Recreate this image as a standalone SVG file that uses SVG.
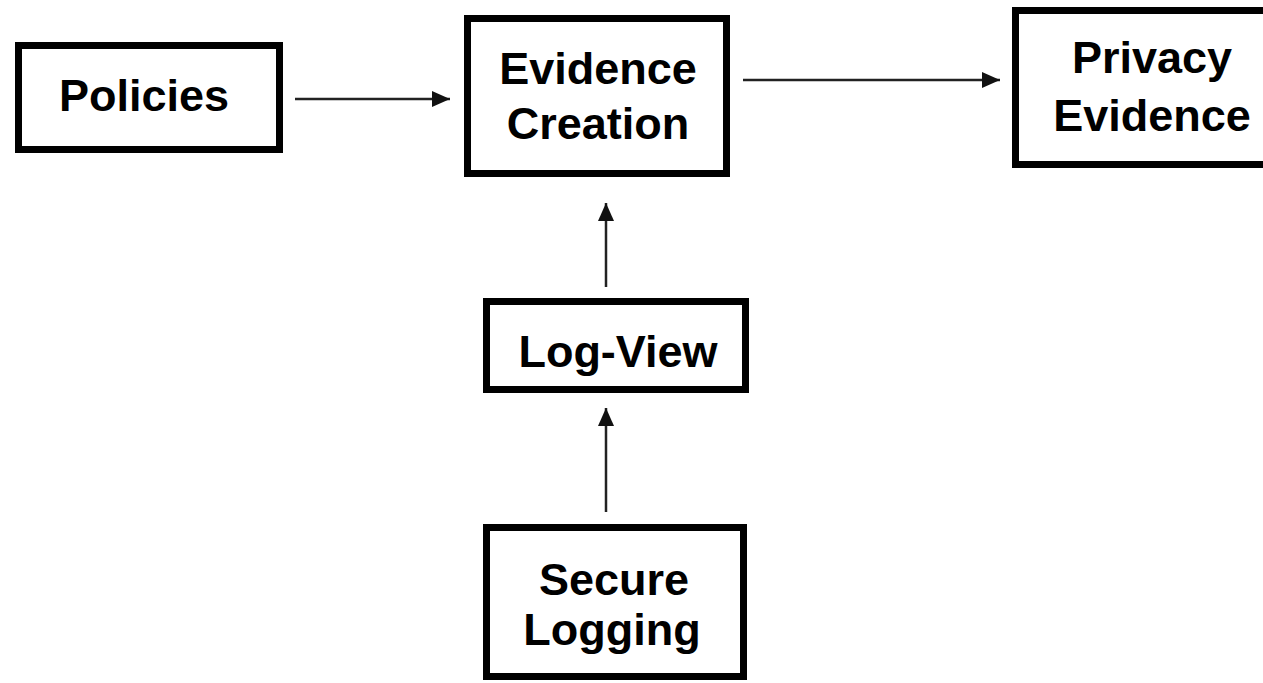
<svg xmlns="http://www.w3.org/2000/svg" width="1263" height="683" viewBox="0 0 1263 683">
<style>
.box{fill:#fff;stroke:#000;stroke-width:7}
.lbl{font-family:"Liberation Sans",Arial,sans-serif;font-weight:bold;font-size:45px;fill:#000;text-anchor:middle}
.edge{stroke:#222;stroke-width:2.5;fill:none}
</style>
<defs>
<marker id="arr" viewBox="0 0 18 16" refX="18" refY="8" markerWidth="18" markerHeight="16" markerUnits="userSpaceOnUse" orient="auto">
<path d="M0,0 L18,8 L0,16 z" fill="#111"/>
</marker>
</defs>
<rect width="1263" height="683" fill="#fff"/>
<g id="connectors">
<line class="edge" x1="295" y1="99" x2="450" y2="99" marker-end="url(#arr)"/>
<line class="edge" x1="743" y1="80" x2="1000" y2="80" marker-end="url(#arr)"/>
<line class="edge" x1="606" y1="287" x2="606" y2="203" marker-end="url(#arr)"/>
<line class="edge" x1="606" y1="512" x2="606" y2="408" marker-end="url(#arr)"/>
</g>
<g id="policies">
<rect class="box" x="18.5" y="45.5" width="261" height="104"/>
<text class="lbl" x="144" y="111">Policies</text>
</g>
<g id="evidence-creation">
<rect class="box" x="467.5" y="18.5" width="259" height="155"/>
<text class="lbl" x="598" y="84">Evidence</text>
<text class="lbl" x="598" y="139">Creation</text>
</g>
<g id="privacy-evidence">
<rect class="box" x="1015.5" y="10.5" width="260" height="154"/>
<text class="lbl" x="1152" y="73">Privacy</text>
<text class="lbl" x="1152" y="131">Evidence</text>
</g>
<g id="log-view">
<rect class="box" x="486.5" y="301.5" width="259" height="88"/>
<text class="lbl" x="618" y="367">Log-View</text>
</g>
<g id="secure-logging">
<rect class="box" x="486.5" y="527.5" width="257" height="149"/>
<text class="lbl" x="614" y="595">Secure</text>
<text class="lbl" x="612" y="645">Logging</text>
</g>
</svg>
